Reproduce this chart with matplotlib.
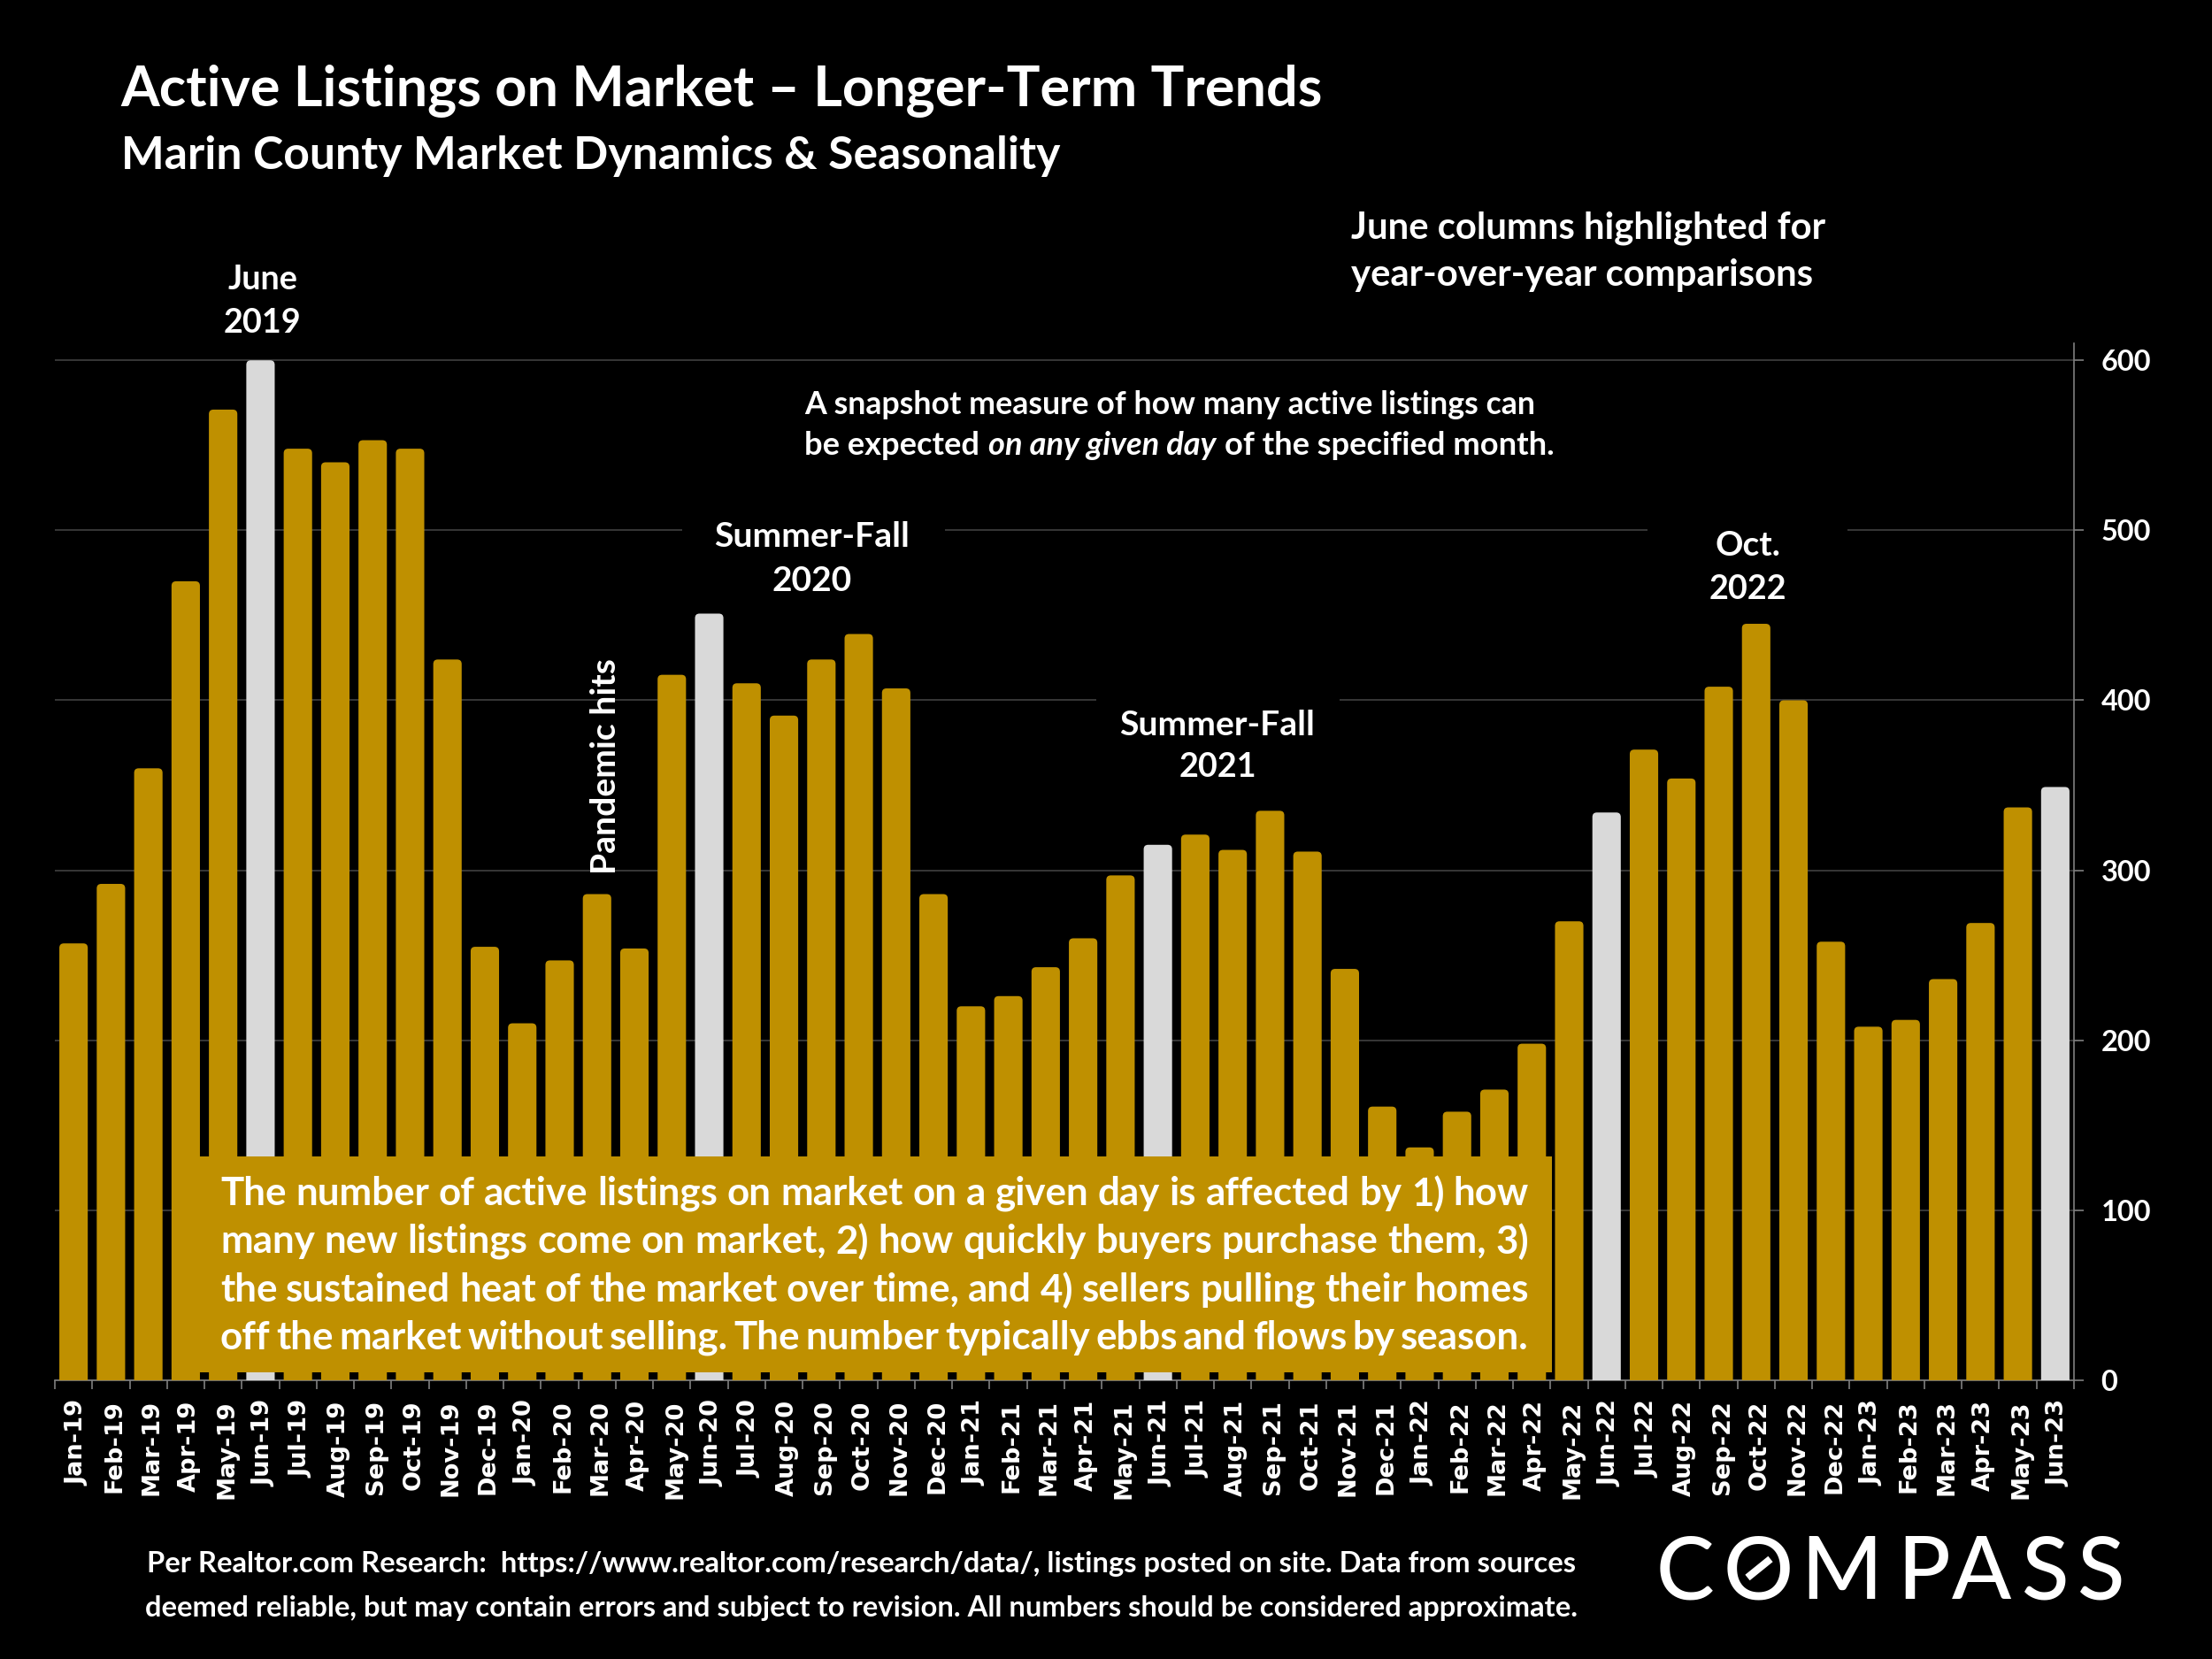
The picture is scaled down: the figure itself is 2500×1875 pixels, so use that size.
#!/usr/bin/env python3
"""Active listings on market, Marin County: monthly columns Jan-19 to Jun-23."""

import matplotlib
matplotlib.use("Agg")
import matplotlib.pyplot as plt
from matplotlib.patches import FancyBboxPatch, Rectangle
from matplotlib.lines import Line2D
from matplotlib.transforms import ScaledTranslation

FONT = "Lato"
GOLD = "#BF9000"
GREY = "#D9D9D9"
W, H = 2500, 1875

months = ["Jan-19", "Feb-19", "Mar-19", "Apr-19", "May-19", "Jun-19", "Jul-19", "Aug-19", "Sep-19",
          "Oct-19", "Nov-19", "Dec-19", "Jan-20", "Feb-20", "Mar-20", "Apr-20", "May-20", "Jun-20",
          "Jul-20", "Aug-20", "Sep-20", "Oct-20", "Nov-20", "Dec-20", "Jan-21", "Feb-21", "Mar-21",
          "Apr-21", "May-21", "Jun-21", "Jul-21", "Aug-21", "Sep-21", "Oct-21", "Nov-21", "Dec-21",
          "Jan-22", "Feb-22", "Mar-22", "Apr-22", "May-22", "Jun-22", "Jul-22", "Aug-22", "Sep-22",
          "Oct-22", "Nov-22", "Dec-22", "Jan-23", "Feb-23", "Mar-23", "Apr-23", "May-23", "Jun-23"]
listings = [257, 292, 360, 470, 571, 600, 548, 540, 553,
            548, 424, 255, 210, 247, 286, 254, 415, 451,
            410, 391, 424, 439, 407, 286, 220, 226, 243,
            260, 297, 315, 321, 312, 335, 311, 242, 161,
            137, 158, 171, 198, 270, 334, 371, 354, 408,
            445, 400, 258, 208, 212, 236, 269, 337, 349]
y_ticks = [0, 100, 200, 300, 400, 500, 600]

callout_lines = [
    "The number of active listings on market on a given day is affected by 1) how",
    "many new listings come on market, 2) how quickly buyers purchase them, 3)",
    "the sustained heat of the market over time, and 4) sellers pulling their homes",
    "off the market without selling. The number typically ebbs and flows by season.",
]
footer_lines = [
    "Per Realtor.com Research:  https://www.realtor.com/research/data/, listings posted on site. Data from sources",
    "deemed reliable, but may contain errors and subject to revision. All numbers should be considered approximate.",
]


def fx(x):
    return x / W


def fy(y):
    return 1 - y / H


def put(fig, x, y, s, size, ha="left", **kw):
    """Text at reference pixel coordinates, vertically centred."""
    kw.setdefault("fontweight", "bold")
    return fig.text(fx(x), fy(y), s, color=kw.pop("color", "white"), fontsize=size, ha=ha,
                    va="center", family=FONT, zorder=10, **kw)


def put_justified(fig, line, x0, x1, y, size):
    """Spread the words of a line between x0 and x1."""
    words = line.split(" ")
    items = [put(fig, x0, y, w, size) for w in words]
    renderer = fig.canvas.get_renderer()
    widths = [t.get_window_extent(renderer).width for t in items]
    gap = (x1 - x0 - sum(widths)) / (len(words) - 1)
    x = x0
    for t, w in zip(items, widths):
        t.set_x(fx(x))
        x += w + gap


fig = plt.figure(figsize=(W / 200, H / 200), dpi=200, facecolor="black")
ax = fig.add_axes([fx(62), fy(1560), (2344 - 62) / W, (1560 - 388) / H], facecolor="black")

positions = list(range(len(months)))
colors = [GREY if m.startswith("Jun") else GOLD for m in months]
bars = ax.bar(positions, listings, width=0.76, color=colors, zorder=3)

# slightly rounded column tops, as in the slide
for rect in bars:
    box = FancyBboxPatch((rect.get_x(), -6), rect.get_width(), rect.get_height() + 6,
                         boxstyle="round,pad=0,rounding_size=0.12", mutation_aspect=22,
                         fc=rect.get_facecolor(), ec="none", zorder=3)
    ax.add_patch(box)
    rect.set_visible(False)

ax.set_xlim(-0.5, len(months) - 0.5)
ax.set_ylim(0, 610)

ax.yaxis.tick_right()
ax.set_yticks(y_ticks)
ax.set_yticklabels([str(v) for v in y_ticks], fontsize=11.7, fontweight="bold", family=FONT, color="white")
ax.tick_params(axis="y", direction="out", length=4, width=0.6, color="#7F7F7F", pad=7)
ax.grid(axis="y", color="#404040", linewidth=0.6, zorder=1)
ax.set_axisbelow(True)

ax.set_xticks([p - 0.5 for p in positions] + [len(months) - 0.5])
ax.set_xticks(positions, minor=True)
ax.set_xticklabels([])
ax.set_xticklabels(months, minor=True, rotation=90, fontsize=9.8, fontweight="bold",
                   family="DejaVu Sans", color="white")
ax.tick_params(axis="x", which="major", direction="out", length=3.6, width=0.6, color="#7F7F7F")
ax.tick_params(axis="x", which="minor", length=0, pad=8)
# month labels sit a touch right of the rotated text box centre
nudge = ScaledTranslation(4 / 200, 0, fig.dpi_scale_trans)
for lbl in ax.get_xticklabels(minor=True):
    lbl.set_transform(lbl.get_transform() + nudge)

for side in ["top", "left"]:
    ax.spines[side].set_visible(False)
for side in ["right", "bottom"]:
    ax.spines[side].set_color("#7F7F7F")
    ax.spines[side].set_linewidth(0.6)

# black plates that break the gridlines behind annotations
for x0, x1, y0, y1 in [(771, 1068, 575, 690), (1239, 1514, 785, 900), (1862, 2088, 585, 700)]:
    fig.add_artist(Rectangle((fx(x0), fy(y1)), fx(x1 - x0), (y1 - y0) / H, transform=fig.transFigure,
                             fc="black", ec="none", zorder=5))

# callout box
fig.add_artist(Rectangle((fx(194), fy(1551)), fx(1754 - 194), (1551 - 1307) / H, transform=fig.transFigure,
                         fc=GOLD, ec="none", zorder=6))
for line, y in zip(callout_lines, [1349, 1403, 1458, 1512]):
    put_justified(fig, line, 249, 1728, y, 15.8)

put(fig, 136, 102, "Active Listings on Market \u2013 Longer-Term Trends", 22.7)
put(fig, 137, 176, "Marin County Market Dynamics & Seasonality", 18.6)

put(fig, 297, 316, "June", 13.6, ha="center")
put(fig, 297, 365, "2019", 13.6, ha="center")
put(fig, 1527, 258, "June columns highlighted for", 15.1)
put(fig, 1527, 311, "year-over-year comparisons", 15.1)
put(fig, 918, 607, "Summer-Fall", 14.1, ha="center")
put(fig, 918, 657, "2020", 14, ha="center")
put(fig, 1376, 819, "Summer-Fall", 14.1, ha="center")
put(fig, 1376, 867, "2021", 13.6, ha="center")
put(fig, 1975, 616, "Oct.", 14, ha="center")
put(fig, 1975, 666, "2022", 13.6, ha="center")
put(fig, 685, 866, "Pandemic hits", 14.1, ha="center", rotation=90)

put(fig, 909, 458, "A snapshot measure of how many active listings can", 12.9)
renderer = fig.canvas.get_renderer()
x = 909
for run, style, gap in [("be expected", "normal", 10), ("on any given day", "italic", 10),
                        ("of the specified month.", "normal", 0)]:
    t = put(fig, x, 504, run, 13.05, fontstyle=style)
    x += t.get_window_extent(renderer).width + gap

for line, y in zip(footer_lines, [1768, 1817]):
    put(fig, 974, y, line, 11.8, ha="center")

# logo lettering
logo_letters = "COMPASS"
logo_centers = [1904, 1987, 2081, 2174, 2240, 2312, 2375]
for ch, cx in zip(logo_letters, logo_centers):
    put(fig, cx, 1779, ch, 35.5, ha="center", fontweight="medium")
fig.add_artist(Line2D([fx(1975), fx(2001)], [fy(1783), fy(1762)], transform=fig.transFigure,
                      color="white", linewidth=3, solid_capstyle="butt", zorder=10))

fig.savefig("out.png", dpi=200, facecolor="black")
